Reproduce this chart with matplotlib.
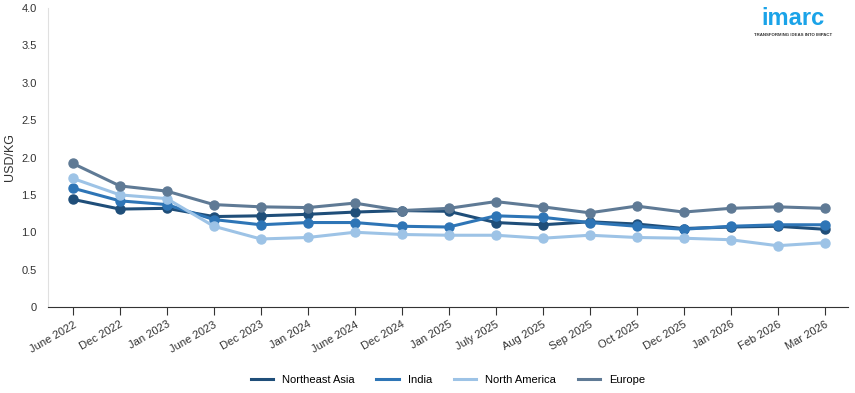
import matplotlib
matplotlib.use('Agg')
import numpy as np
from matplotlib import pyplot as plt

plt.rcParams['font.family'] = ['Liberation Sans', 'DejaVu Sans']

months = ['June 2022', 'Dec 2022', 'Jan 2023', 'June 2023', 'Dec 2023', 'Jan 2024',
          'June 2024', 'Dec 2024', 'Jan 2025', 'July 2025', 'Aug 2025', 'Sep 2025',
          'Oct 2025', 'Dec 2025', 'Jan 2026', 'Feb 2026', 'Mar 2026']

northeast_asia = [1.44, 1.31, 1.32, 1.21, 1.22, 1.24, 1.27, 1.29, 1.28, 1.13, 1.10, 1.14, 1.11, 1.05, 1.07, 1.08, 1.04]
india = [1.59, 1.42, 1.37, 1.17, 1.10, 1.13, 1.13, 1.08, 1.07, 1.22, 1.20, 1.13, 1.08, 1.04, 1.08, 1.10, 1.10]
north_america = [1.72, 1.50, 1.45, 1.08, 0.91, 0.93, 1.00, 0.97, 0.96, 0.96, 0.92, 0.96, 0.93, 0.92, 0.90, 0.82, 0.86]
europe = [1.92, 1.62, 1.55, 1.37, 1.34, 1.33, 1.39, 1.29, 1.32, 1.41, 1.34, 1.26, 1.35, 1.27, 1.32, 1.34, 1.32]

series = [('Northeast Asia', northeast_asia, '#1f4e79'),
          ('India', india, '#2e75b6'),
          ('North America', north_america, '#9dc3e6'),
          ('Europe', europe, '#5f7a95')]

fig = plt.figure(figsize=(8.55, 3.93), dpi=100)
ax = fig.add_axes([48 / 855, 1 - 307 / 393, 800 / 855, 299 / 393])

x = np.arange(len(months))
for name, vals, col in series:
    ax.plot(x, vals, color=col, lw=2.2, marker='o', ms=6.5, label=name)

ax.set_xlim(-0.53, len(months) - 0.5)
ax.set_ylim(0, 4.0)
ax.set_yticks(np.arange(0, 4.01, 0.5))
ax.set_yticklabels(['0'] + ['%.1f' % v for v in np.arange(0.5, 4.01, 0.5)])
ax.set_xticks(x)
ax.set_xticklabels(months, rotation=30, ha='right', rotation_mode='anchor')
ax.tick_params(axis='y', length=0, labelsize=8, colors='#333333', pad=8)
ax.tick_params(axis='x', length=6, labelsize=8, colors='#333333', pad=3)
ax.set_ylabel('USD/KG', fontsize=9, color='#333333', labelpad=4)

for s in ['top', 'right']:
    ax.spines[s].set_visible(False)
ax.spines['left'].set_color('#e0e0e0')
ax.spines['bottom'].set_color('#333333')

ax.legend(loc='upper center', bbox_to_anchor=(0.5, -0.195), ncol=4, frameon=False,
          fontsize=8, handlelength=2, markerscale=0)

fig.text(0.928, 0.952, 'imarc', fontsize=17, color='#1aa3e8', ha='center', va='center', fontweight='bold')
fig.text(0.928, 0.912, 'TRANSFORMING IDEAS INTO IMPACT', fontsize=3.2, color='#333333', ha='center', va='center', fontweight='bold')

fig.savefig('out.png', dpi=100)
